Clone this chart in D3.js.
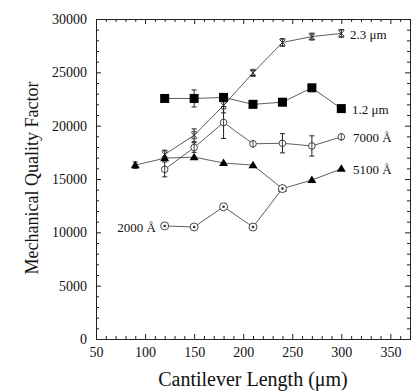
<!DOCTYPE html>
<html>
<head>
<meta charset="utf-8">
<script src="https://cdn.jsdelivr.net/npm/d3@7"></script>
<style>
  body { margin: 0; padding: 0; background: #fff; }
  svg { display: block; }
  text { font-family: "Liberation Serif", "DejaVu Serif", serif; fill: #111; }
</style>
</head>
<body>
<div id="main"></div>
<script>
// values
const len23 = [120, 150, 180, 210, 240, 270, 300];
const q23 = [17300, 19100, 21900, 24950, 27800, 28350, 28650];
const err23 = [400, 600, 700, 250, 350, 250, 350];

const len12 = [120, 150, 180, 210, 240, 270, 300];
const q12 = [22550, 22550, 22650, 22000, 22200, 23550, 21600];
const err12 = [0, 800, 0, 0, 0, 0, 0];

const len7000 = [120, 150, 180, 210, 240, 270, 300];
const q7000 = [15900, 17950, 20300, 18300, 18350, 18100, 18950];
const err7000 = [700, 450, 1500, 0, 900, 950, 0];

const len5100 = [90, 120, 150, 180, 210, 240, 270, 300];
const q5100 = [16300, 16950, 17050, 16500, 16300, 14100, 14900, 15950];
const err5100 = [300, 0, 0, 0, 0, 0, 0, 0];

const len2000 = [120, 150, 180, 210, 240];
const q2000 = [10600, 10500, 12400, 10500, 14100];

const xMajor = [50, 100, 150, 200, 250, 300, 350];
const yMajor = [0, 5000, 10000, 15000, 20000, 25000, 30000];

const WIDTH = 411, HEIGHT = 392;
const x = d3.scaleLinear().domain([50, 370]).range([96, 410]);
const y = d3.scaleLinear().domain([0, 30000]).range([339, 19]);

const svg = d3.select('#main').append('svg').attr('width', WIDTH).attr('height', HEIGHT);

const xMinor = d3.range(50, 371, 10).filter(v => !xMajor.includes(v));
const yMinor = d3.range(0, 30001, 1000).filter(v => !yMajor.includes(v));

const styleAxis = (g) => {
    g.select('.domain').attr('stroke', '#222').attr('stroke-width', 1);
    g.selectAll('.tick line').attr('stroke', '#222');
    g.selectAll('text').style('font-size', '14px').attr('fill', '#111');
};

// bottom
svg.append('g').attr('transform', `translate(0,${y(0)})`)
    .call(d3.axisBottom(x).tickValues(xMajor).tickSize(-5).tickPadding(8).tickFormat(d3.format('d')))
    .call(styleAxis);
svg.append('g').attr('transform', `translate(0,${y(0)})`)
    .call(d3.axisBottom(x).tickValues(xMinor).tickSize(-3).tickFormat(''))
    .call(styleAxis);
// top
svg.append('g').attr('transform', `translate(0,${y(30000)})`)
    .call(d3.axisTop(x).tickValues(xMajor).tickSize(-5).tickFormat(''))
    .call(styleAxis);
svg.append('g').attr('transform', `translate(0,${y(30000)})`)
    .call(d3.axisTop(x).tickValues(xMinor).tickSize(-3).tickFormat(''))
    .call(styleAxis);
// left
svg.append('g').attr('transform', `translate(${x(50)},0)`)
    .call(d3.axisLeft(y).tickValues(yMajor).tickSize(-5).tickPadding(9).tickFormat(d3.format('d')))
    .call(styleAxis);
svg.append('g').attr('transform', `translate(${x(50)},0)`)
    .call(d3.axisLeft(y).tickValues(yMinor).tickSize(-3).tickFormat(''))
    .call(styleAxis);
// right
svg.append('g').attr('transform', `translate(${x(370)},0)`)
    .call(d3.axisRight(y).tickValues(yMajor).tickSize(-5).tickFormat(''))
    .call(styleAxis);
svg.append('g').attr('transform', `translate(${x(370)},0)`)
    .call(d3.axisRight(y).tickValues(yMinor).tickSize(-3).tickFormat(''))
    .call(styleAxis);

// axis titles
svg.append('text')
    .attr('x', 253).attr('y', 386)
    .attr('text-anchor', 'middle')
    .style('font-size', '20px')
    .text('Cantilever Length (\u03bcm)');
svg.append('text')
    .attr('transform', `translate(38,${178}) rotate(-90)`)
    .attr('text-anchor', 'middle')
    .style('font-size', '18px')
    .text('Mechanical Quality Factor');

const line = d3.line().x(d => x(d[0])).y(d => y(d[1]));
const zip = (xs, ys, es) => xs.map((v, i) => [v, ys[i], es ? es[i] : 0]);

const series = [
    { name: '2.3', pts: zip(len23, q23, err23), marker: 'cross' },
    { name: '7000', pts: zip(len7000, q7000, err7000), marker: 'circbar' },
    { name: '1.2', pts: zip(len12, q12, err12), marker: 'square' },
    { name: '5100', pts: zip(len5100, q5100, err5100), marker: 'triangle' },
    { name: '2000', pts: zip(len2000, q2000), marker: 'dotcircle' },
];

series.forEach(s => {
    const g = svg.append('g');
    g.append('path').datum(s.pts).attr('d', line)
        .attr('fill', 'none').attr('stroke', '#333').attr('stroke-width', 0.8);
    // error bars
    const eb = g.selectAll('g.err').data(s.pts.filter(d => d[2] > 0)).enter().append('g');
    eb.append('line')
        .attr('x1', d => x(d[0])).attr('x2', d => x(d[0]))
        .attr('y1', d => y(d[1] - d[2])).attr('y2', d => y(d[1] + d[2]))
        .attr('stroke', '#222').attr('stroke-width', 1);
    [-1, 1].forEach(sgn => {
        eb.append('line')
            .attr('x1', d => x(d[0]) - 2.5).attr('x2', d => x(d[0]) + 2.5)
            .attr('y1', d => y(d[1] + sgn * d[2])).attr('y2', d => y(d[1] + sgn * d[2]))
            .attr('stroke', '#222').attr('stroke-width', 1);
    });
    const m = g.selectAll('g.mk').data(s.pts).enter().append('g')
        .attr('transform', d => `translate(${x(d[0])},${y(d[1])})`);
    if (s.marker === 'square') {
        m.append('rect').attr('x', -4.5).attr('y', -4.5).attr('width', 9).attr('height', 9).attr('fill', '#000');
    } else if (s.marker === 'triangle') {
        m.append('path').attr('d', 'M0,-4.5L4.5,3L-4.5,3Z').attr('fill', '#000');
    } else if (s.marker === 'cross') {
        m.append('path').attr('d', 'M-3,-3L3,3M-3,3L3,-3M-2.5,-3.5H2.5M-2.5,3.5H2.5')
            .attr('stroke', '#222').attr('stroke-width', 0.9).attr('fill', 'none');
    } else if (s.marker === 'circbar') {
        m.append('circle').attr('r', 3.3).attr('fill', '#fff').attr('stroke', '#333').attr('stroke-width', 0.9);
        m.append('path').attr('d', 'M0,-4V4').attr('stroke', '#333').attr('stroke-width', 0.9);
    } else if (s.marker === 'dotcircle') {
        m.append('circle').attr('r', 4).attr('fill', '#fff').attr('stroke', '#333').attr('stroke-width', 0.9);
        m.append('circle').attr('r', 1.3).attr('fill', '#333');
    }
});

// series labels
const labels = [
    { t: '2.3 \u03bcm', x: 350, y: 39, a: 'start' },
    { t: '1.2 \u03bcm', x: 352, y: 114, a: 'start' },
    { t: '7000 \u00c5', x: 353, y: 142, a: 'start' },
    { t: '5100 \u00c5', x: 353, y: 174, a: 'start' },
    { t: '2000 \u00c5', x: 156, y: 232, a: 'end' },
];
svg.selectAll('text.lab').data(labels).enter().append('text')
    .attr('x', d => d.x).attr('y', d => d.y)
    .attr('text-anchor', d => d.a)
    .style('font-size', '13px')
    .text(d => d.t);
</script>
</body>
</html>
